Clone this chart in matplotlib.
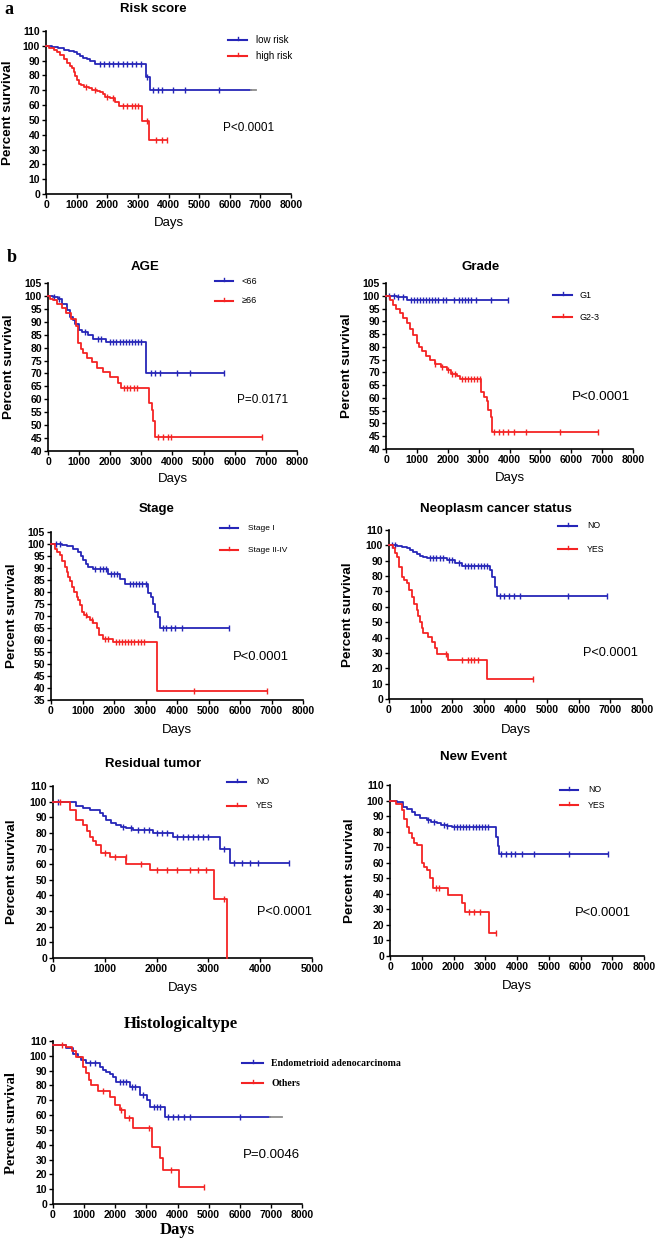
import numpy as np
import matplotlib
matplotlib.use('Agg')
import matplotlib.pyplot as plt
from matplotlib.lines import Line2D

plt.rcParams['font.family'] = ['Liberation Sans', 'DejaVu Sans']

# ---------------- data ----------------
# a: risk score
low_t = [0, 200, 400, 600, 750, 900, 1000, 1100, 1200, 1350, 1450, 1600, 3250, 3400]
low_s = [100, 99.3, 98.5, 97.5, 96.5, 95.5, 94.5, 93.3, 92, 90.8, 89.5, 87.7, 79, 70.5]
low_end, low_tail = 6700, 6850
low_c = [1750, 1900, 2050, 2200, 2350, 2500, 2650, 2800, 2950, 3100, 3300, 3500, 3650, 3800, 4150, 4550, 5650]
high_t = [0, 100, 250, 350, 470, 580, 685, 780, 850, 920, 960, 1010, 1065, 1150, 1230, 1400, 1500,
          1650, 1770, 1850, 1935, 2100, 2260, 2370, 3130, 3350]
high_s = [100, 98.5, 97, 95.5, 93.7, 91, 88.5, 86.5, 84.8, 82, 79.5, 77, 74.5, 73.5, 72.5, 71.5, 70.5,
          69.8, 69, 67.5, 65.7, 64.6, 62.3, 59.4, 49, 36.7]
high_end = 3950
high_c = [1300, 1600, 2000, 2200, 2500, 2650, 2800, 2900, 3000, 3290, 3600, 3800, 3950]

# b: age
young_t = [0, 150, 320, 450, 600, 720, 800, 880, 1000, 1100, 1300, 1450, 1850, 3150]
young_s = [100, 99.6, 99, 97, 94.5, 92, 90.5, 89, 87, 86, 85, 83.5, 82, 70]
young_end = 5650
young_c = [200, 350, 1200, 1600, 1700, 2000, 2100, 2200, 2300, 2400, 2500, 2600, 2700, 2800, 2900,
           3000, 3300, 3450, 3600, 4150, 4550, 5650]
old_t = [0, 80, 160, 300, 450, 590, 750, 910, 970, 1050, 1130, 1250, 1400, 1560, 1770, 1990, 2260,
         2360, 3240, 3330, 3360, 3440]
old_s = [100, 99, 98.5, 97, 95.5, 93.4, 91, 88.2, 81.7, 79.5, 77.8, 76, 74.6, 72, 70.7, 68.8, 66.2,
         64.2, 58.4, 55.8, 51.7, 45.4]
old_end = 6870
old_c = [2450, 2550, 2650, 2750, 2850, 3550, 3700, 3850, 3950, 6870]

# grade
g1_t = [0, 345, 690]
g1_s = [100, 99.4, 98.2]
g1_end = 3950
g1_c = [100, 250, 400, 550, 800, 900, 1000, 1100, 1200, 1300, 1400, 1500, 1600, 1700, 1850, 1950,
        2200, 2350, 2450, 2550, 2650, 2750, 2900, 3400, 3950]
g23_t = [0, 120, 237, 340, 450, 560, 670, 780, 885, 990, 1070, 1150, 1280, 1420, 1585, 1780, 1960,
         2120, 2290, 2390, 3090, 3180, 3260, 3310, 3400, 3420]
g23_s = [100, 98.5, 96.5, 95, 93.2, 91.3, 89.3, 87, 84.7, 81.5, 79.8, 78.2, 76.5, 74.9, 73.2, 72, 71,
         69.5, 68.4, 67.5, 62.5, 60.5, 58.6, 55.3, 52.7, 46.8]
g23_end = 6870
g23_c = [1600, 1800, 2000, 2150, 2250, 2450, 2550, 2650, 2750, 2850, 2950, 3050, 3500, 3650, 3800,
         3950, 4150, 4550, 5650, 6870]

# stage
s1_t = [0, 340, 500, 710, 870, 950, 1025, 1100, 1185, 1340, 1820, 2190, 2350, 3090, 3190, 3245, 3300,
        3400, 3460]
s1_s = [100, 99.5, 99, 98, 96.7, 95, 93.2, 91.5, 90.4, 89.4, 87.4, 85.6, 83.2, 79.4, 78, 75.2, 71.7,
        69.6, 64.8]
s1_end = 5650
s1_c = [150, 300, 1400, 1550, 1650, 1750, 1900, 2000, 2100, 2500, 2600, 2700, 2800, 2900, 3000, 3550,
        3650, 3800, 3950, 4150, 5650]
s24_t = [0, 127, 200, 285, 360, 444, 500, 550, 600, 655, 720, 815, 870, 920, 970, 1050, 1130, 1240,
         1340, 1450, 1530, 1660, 1980, 3350]
s24_s = [100, 98, 96.5, 95.3, 93, 90.4, 88.5, 86.3, 84.5, 82.1, 80, 78, 76.5, 74.5, 71.7, 70.5, 69.6,
         68.5, 67.2, 64.8, 62, 60.6, 59, 38.9]
s24_end = 6870
s24_c = [1100, 1300, 1700, 1800, 2050, 2150, 2250, 2350, 2450, 2550, 2650, 2750, 2850, 2950, 4550, 6870]

# neoplasm cancer status
neo_no_t = [0, 240, 400, 560, 670, 770, 880, 980, 1080, 1190, 1830, 2090, 2300, 3200, 3250, 3360, 3410]
neo_no_s = [100, 99.5, 99, 98, 97, 95.9, 94.5, 93.1, 92.2, 91.6, 90.5, 88.7, 86.6, 84, 79.6, 73.1, 67.3]
neo_no_end = 6890
neo_no_c = [100, 200, 1300, 1400, 1500, 1600, 1700, 1900, 2000, 2200, 2400, 2500, 2600, 2700, 2800,
            2900, 3000, 3100, 3500, 3650, 3800, 3950, 4150, 5650, 6890]
neo_yes_t = [0, 137, 190, 243, 320, 400, 480, 560, 640, 718, 800, 876, 930, 980, 1030, 1087, 1245,
             1350, 1456, 1510, 1857, 3090]
neo_yes_s = [100, 98, 95, 92.6, 86, 79.6, 77.5, 75.3, 71, 66.6, 62, 57.9, 54, 50.3, 46.5, 42.7, 40.6,
             37.3, 33, 29.3, 25.4, 13]
neo_yes_end = 4550
neo_yes_c = [1800, 2300, 2500, 2600, 2700, 2800, 4550]

# residual tumor
res_no_t = [0, 257, 450, 580, 708, 900, 960, 1030, 1120, 1222, 1320, 1416, 1544, 1930, 2317, 3230, 3410]
res_no_s = [100, 99.5, 97.2, 96, 94.7, 92.6, 90.5, 88.3, 86.5, 85.1, 84, 83, 81.9, 79.8, 77.7, 69.6, 60.6]
res_no_end = 4556
res_no_c = [100, 1350, 1500, 1650, 1750, 1850, 2000, 2100, 2200, 2400, 2500, 2600, 2700, 2800, 2900,
            3000, 3300, 3500, 3650, 3800, 3950, 4556]
res_yes_t = [0, 322, 450, 580, 650, 708, 780, 837, 933, 1094, 1416, 1866, 3100, 3360]
res_yes_s = [100, 94.7, 88.3, 85.1, 81, 77.7, 75, 72.3, 67, 64.9, 60.2, 56.4, 37.7, 0]
res_yes_end = 3360
res_yes_c = [130, 1000, 1200, 1400, 1700, 2000, 2200, 2400, 2650, 2800, 2950, 3300]

# new event
ev_no_t = [0, 210, 420, 550, 680, 800, 943, 1153, 1300, 1468, 1600, 1782, 1950, 3323, 3386, 3438]
ev_no_s = [100, 99.3, 95.6, 94.5, 92.8, 90.8, 88.6, 87.5, 86.5, 85.3, 84.5, 83.8, 82.8, 76.8, 70.8, 65.6]
ev_no_end = 6866
ev_no_c = [1200, 1400, 1700, 1800, 2000, 2100, 2200, 2300, 2400, 2500, 2600, 2700, 2800, 2900, 3000,
           3100, 3500, 3650, 3800, 3950, 4150, 4550, 5650, 6866]
ev_yes_t = [0, 200, 367, 450, 524, 600, 681, 760, 839, 996, 1080, 1153, 1258, 1363, 1834, 2254, 2358, 3124]
ev_yes_s = [100, 98, 93.9, 88, 83.2, 79, 75.7, 73, 71.4, 59.6, 57.5, 55.3, 50, 43.5, 39.2, 33.9, 28, 14.6]
ev_yes_end = 3323
ev_yes_c = [1450, 1550, 2500, 2650, 2850, 3323]

# histological type
endo_t = [0, 430, 645, 800, 913, 1074, 1504, 1620, 1718, 1830, 1933, 2040, 2470, 2793, 3008, 3115, 3598]
endo_s = [107, 105, 101.2, 99, 97.2, 94.9, 92.2, 90.5, 89.3, 87.5, 85.9, 82.6, 79.2, 73.6, 70.2, 65.7, 58.5]
endo_end, endo_tail = 6980, 7360
endo_c = [1200, 1350, 2150, 2250, 2350, 2550, 2650, 2900, 3250, 3350, 3450, 3700, 3850, 4000, 4200,
          4400, 6000]
oth_t = [0, 430, 600, 752, 967, 1074, 1150, 1235, 1450, 1826, 1987, 2148, 2309, 2556, 3169, 3437, 3545, 4060]
oth_s = [107, 106, 103, 99.4, 92.7, 88.2, 84, 80.3, 76.5, 72.4, 66.8, 63.4, 57.8, 51.1, 38.2, 30.8, 22.9, 11.2]
oth_end = 4855
oth_c = [300, 1600, 2200, 2450, 3100, 3800, 4855]

# ---------------- drawing ----------------
BLUE = '#2626b8'
RED = '#f42424'
GRAY = '#8c8c8c'
SERIF = ['Liberation Serif', 'DejaVu Serif']

W, H = 660, 1240
fig = plt.figure(figsize=(6.6, 12.4), dpi=100)


def fx(x):
    return x / W


def fy(y):
    return 1 - y / H


def add_ax(l, r, t, b, xmax, ymin, ymax, ystep):
    ax = fig.add_axes([fx(l), fy(b), (r - l) / W, (b - t) / H])
    ax.set_xlim(0, xmax)
    ax.set_ylim(ymin, ymax)
    ax.set_xticks(np.arange(0, xmax + 1, 1000))
    ax.set_yticks(np.arange(ymin, ymax + 1, ystep))
    for sp in ['top', 'right']:
        ax.spines[sp].set_visible(False)
    for sp in ['left', 'bottom']:
        ax.spines[sp].set_linewidth(1.2)
    ax.tick_params(direction='out', length=2.8, width=1.0, pad=1.6, labelsize=7.5)
    for lab in ax.get_xticklabels() + ax.get_yticklabels():
        lab.set_fontweight('bold')
    return ax


def km(ax, t, s, end, cens, color, tail=None):
    x = list(t) + [end]
    y = list(s) + [s[-1]]
    ax.step(x, y, where='post', color=color, lw=1.3, clip_on=False, zorder=3)
    idx = np.searchsorted(t, cens, side='right') - 1
    ax.plot(cens, np.array(s)[idx], ls='none', marker='|', ms=3.8, mew=1.0,
            color=color, clip_on=False, zorder=3)
    if tail:
        ax.plot([end, tail], [s[-1], s[-1]], color=GRAY, lw=1.3, clip_on=False, zorder=3)


def legend(x0, x1, xt, ys, labels, fs, **kw):
    for y, lab, c in zip(ys, labels, [BLUE, RED]):
        fig.add_artist(Line2D([fx(x0), fx(x1)], [fy(y), fy(y)], color=c, lw=1.5))
        xm = (x0 + x1) / 2
        fig.add_artist(Line2D([fx(xm), fx(xm)], [fy(y), fy(y - 3)], color=c, lw=1.0))
        fig.text(fx(xt), fy(y), lab, fontsize=fs, va='center', ha='left', **kw)


def labels(ax_l, ax_r, ax_t, ax_b, title, tx, ty, ylx, dy, pval, px, py, pfs, serif=False):
    kw = dict(family=SERIF) if serif else {}
    fig.text(fx(tx), fy(ty), title, ha='center', va='center', fontweight='bold',
             fontsize=12 if serif else 9.5, **kw)
    fig.text(fx(ylx), fy((ax_t + ax_b) / 2), 'Percent survival', rotation=90, ha='center',
             va='center', fontweight='bold', fontsize=10.5 if serif else 9.7, **kw)
    fig.text(fx((ax_l + ax_r) / 2), fy(dy), 'Days', ha='center', va='center',
             fontsize=12 if serif else 9.5, fontweight='bold' if serif else 'normal', **kw)
    fig.text(fx(px), fy(py), pval, ha='left', va='center', fontsize=pfs)


# a: risk score
ax = add_ax(46, 291, 31, 194, 8000, 0, 110, 10)
km(ax, low_t, low_s, low_end, low_c, BLUE, tail=low_tail)
km(ax, high_t, high_s, high_end, high_c, RED)
labels(46, 291, 31, 194, 'Risk score', 153, 9, 8, 223, 'P<0.0001', 223, 128, 8.5)
legend(228, 247, 256, [40, 56], ['low risk', 'high risk'], 7)
fig.text(fx(9), fy(10), 'a', family=SERIF, fontweight='bold', fontsize=13, ha='center', va='center')

# b: age
ax = add_ax(48, 297, 283, 451, 8000, 40, 105, 5)
km(ax, young_t, young_s, young_end, young_c, BLUE)
km(ax, old_t, old_s, old_end, old_c, RED)
labels(48, 297, 283, 451, 'AGE', 145, 267, 9, 479, 'P=0.0171', 237, 400, 8.5)
legend(215, 233, 242, [281, 301], ['<66', '≥66'], 6.5)
fig.text(fx(12), fy(257), 'b', family=SERIF, fontweight='bold', fontsize=13, ha='center', va='center')

# grade
ax = add_ax(386, 633, 283, 449, 8000, 40, 105, 5)
km(ax, g1_t, g1_s, g1_end, g1_c, BLUE)
km(ax, g23_t, g23_s, g23_end, g23_c, RED)
labels(386, 633, 283, 449, 'Grade', 481, 267, 347, 478, 'P<0.0001', 572, 397, 9.7)
legend(553, 572, 580, [295, 317], ['G1', 'G2-3'], 6.5)

# stage
ax = add_ax(51, 303, 532, 700, 8000, 35, 105, 5)
km(ax, s1_t, s1_s, s1_end, s1_c, BLUE)
km(ax, s24_t, s24_s, s24_end, s24_c, RED)
labels(51, 303, 532, 700, 'Stage', 157, 509, 12, 730, 'P<0.0001', 233, 657, 9.4)
legend(220, 238, 248, [528, 550], ['Stage I', 'Stage II-IV'], 6)

# neoplasm cancer status
ax = add_ax(389, 642, 530, 699, 8000, 0, 110, 10)
km(ax, neo_no_t, neo_no_s, neo_no_end, neo_no_c, BLUE)
km(ax, neo_yes_t, neo_yes_s, neo_yes_end, neo_yes_c, RED)
labels(389, 642, 530, 699, 'Neoplasm cancer status', 496, 509, 348, 730, 'P<0.0001', 583, 653, 9.2)
legend(558, 577, 587, [526, 549], ['NO', 'YES'], 6.3)

# residual tumor
ax = add_ax(53, 312, 786, 958, 5000, 0, 110, 10)
km(ax, res_no_t, res_no_s, res_no_end, res_no_c, BLUE)
km(ax, res_yes_t, res_yes_s, res_yes_end, res_yes_c, RED)
labels(53, 312, 786, 958, 'Residual tumor', 153, 764, 12, 988, 'P<0.0001', 257, 912, 9.2)
legend(227, 246, 256, [782, 806], ['NO', 'YES'], 6.3)

# new event
ax = add_ax(390, 644, 785, 956, 8000, 0, 110, 10)
km(ax, ev_no_t, ev_no_s, ev_no_end, ev_no_c, BLUE)
km(ax, ev_yes_t, ev_yes_s, ev_yes_end, ev_yes_c, RED)
labels(390, 644, 785, 956, 'New Event', 474, 757, 350, 986, 'P<0.0001', 575, 913, 9.4)
legend(560, 578, 588, [790, 805], ['NO', 'YES'], 6.3)

# histological type
ax = add_ax(53, 302, 1041, 1204, 8000, 0, 110, 10)
km(ax, endo_t, endo_s, endo_end, endo_c, BLUE, tail=endo_tail)
km(ax, oth_t, oth_s, oth_end, oth_c, RED)
labels(53, 302, 1041, 1204, 'Histologicaltype', 181, 1024, 12, 1230, 'P=0.0046', 243, 1155, 9.5,
       serif=True)
legend(242, 263, 271, [1063, 1083], ['Endometrioid adenocarcinoma', 'Others'], 7,
       family=SERIF, fontweight='bold')

fig.savefig('out.png', dpi=100)
